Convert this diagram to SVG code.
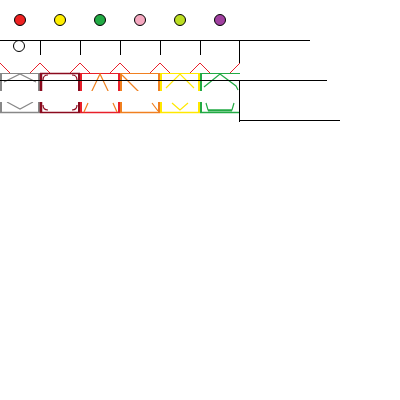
<svg xmlns="http://www.w3.org/2000/svg" width="400" height="400" viewBox="0 0 400 400">
<style>
.dot{stroke:#000;stroke-width:1}
.ln{stroke:#000;stroke-width:1;fill:none}
.zig{stroke:#e8202a;stroke-width:1;fill:none}
.in{fill:none;stroke-width:1.2}
</style>
<rect width="400" height="400" fill="#fff"/>
<g id="dots">
<circle cx="20" cy="20" r="5.5" fill="#ee2222" class="dot"/>
<circle cx="60" cy="20" r="5.5" fill="#ffee00" class="dot"/>
<circle cx="100" cy="20" r="5.5" fill="#22aa44" class="dot"/>
<circle cx="140" cy="20" r="5.5" fill="#f5a8c0" class="dot"/>
<circle cx="180" cy="20" r="5.5" fill="#bbdd22" class="dot"/>
<circle cx="220" cy="20" r="5.5" fill="#a040a0" class="dot"/>
<circle cx="19" cy="46" r="5.5" fill="#fff" class="dot"/>
</g>
<g id="zigzag">
<path class="zig" d="M0,63 L10,73 M30,73 L40,63 L50,73 M70,73 L80,63 L90,73 M110,73 L120,63 L130,73 M150,73 L160,63 L170,73 M190,73 L200,63 L210,73 M230,73 L240,63"/>
</g>
<g id="boxes">
<g id="b0" stroke="#888">
<line x1="0" y1="73.5" x2="40" y2="73.5"/><line x1="0" y1="112.5" x2="40" y2="112.5" stroke-width="1.5"/>
<line x1="1" y1="73" x2="1" y2="113" stroke-width="2"/><line x1="39" y1="73" x2="39" y2="113" stroke-width="2"/>
<polyline class="in" points="4,82 20,74 36,82"/><polyline class="in" points="7,102 20,109 33,102"/>
</g>
<g id="b1" stroke="#8b0a1e">
<line x1="40" y1="73.5" x2="80" y2="73.5" stroke-width="1.5"/><line x1="40" y1="112.5" x2="80" y2="112.5" stroke-width="1.5"/>
<line x1="41" y1="73" x2="41" y2="113" stroke-width="2.5"/><line x1="79" y1="73" x2="79" y2="113" stroke-width="2"/>
<path class="in" d="M43,80 Q43,75 48,75 M72,75 Q77,75 77,80 M43,105 Q43,110 48,110 M72,110 Q77,110 77,105"/>
</g>
<g id="b2" stroke="#e8202a">
<line x1="80" y1="73.5" x2="120" y2="73.5"/><line x1="80" y1="112.5" x2="120" y2="112.5" stroke-width="1.5"/>
<line x1="81" y1="73" x2="81" y2="113" stroke-width="2"/><line x1="119" y1="73" x2="119" y2="113" stroke-width="2"/>
<polyline class="in" stroke="#f08020" points="90,95 100,74 110,95"/>
<path class="in" stroke="#f08020" d="M84,112 L88,103 M117,112 L113,103"/>
</g>
<g id="b3" stroke="#f08020">
<line x1="120" y1="73.5" x2="160" y2="73.5"/><line x1="120" y1="112.5" x2="160" y2="112.5" stroke-width="1.5"/>
<line x1="121" y1="73" x2="121" y2="113" stroke-width="2"/><line x1="159" y1="73" x2="159" y2="113" stroke-width="2"/>
<path class="in" d="M122,75 L140,93 M152,103 L158,111"/>
</g>
<g id="b4" stroke="#ffe800">
<line x1="160" y1="73.5" x2="200" y2="73.5"/><line x1="160" y1="112.5" x2="200" y2="112.5" stroke-width="1.5"/>
<line x1="161" y1="73" x2="161" y2="113" stroke-width="2"/><line x1="199" y1="73" x2="199" y2="113" stroke-width="2"/>
<polyline class="in" points="166,88 180,74 194,88"/><polyline class="in" points="172,103 180,110 188,103"/>
</g>
<g id="b5" stroke="#22aa44">
<line x1="200" y1="73.5" x2="240" y2="73.5"/><line x1="200" y1="112.5" x2="240" y2="112.5" stroke-width="1.5"/>
<line x1="201" y1="73" x2="201" y2="113" stroke-width="2"/>
<polyline class="in" points="204,87 220,74 236,86 238,90"/><polyline class="in" points="206,103 208,110 232,110 234,103"/>
<line x1="208" y1="110.5" x2="232" y2="110.5" stroke-width="2"/>
</g>
<rect x="0" y="91" width="239" height="11" fill="#fff"/>
</g>
<g id="connectors">
<line class="ln" x1="0" y1="40.5" x2="310" y2="40.5"/>
<line class="ln" x1="40.5" y1="40" x2="40.5" y2="55"/>
<line class="ln" x1="80.5" y1="40" x2="80.5" y2="55"/>
<line class="ln" x1="120.5" y1="40" x2="120.5" y2="55"/>
<line class="ln" x1="160.5" y1="40" x2="160.5" y2="55"/>
<line class="ln" x1="200.5" y1="40" x2="200.5" y2="55"/>
<line class="ln" x1="239.5" y1="40" x2="239.5" y2="63"/>
<line class="ln" x1="0" y1="80.5" x2="327" y2="80.5"/>
<line class="ln" x1="239.5" y1="80" x2="239.5" y2="122"/>
<line class="ln" x1="240" y1="120.5" x2="340" y2="120.5"/>
</g>
</svg>
